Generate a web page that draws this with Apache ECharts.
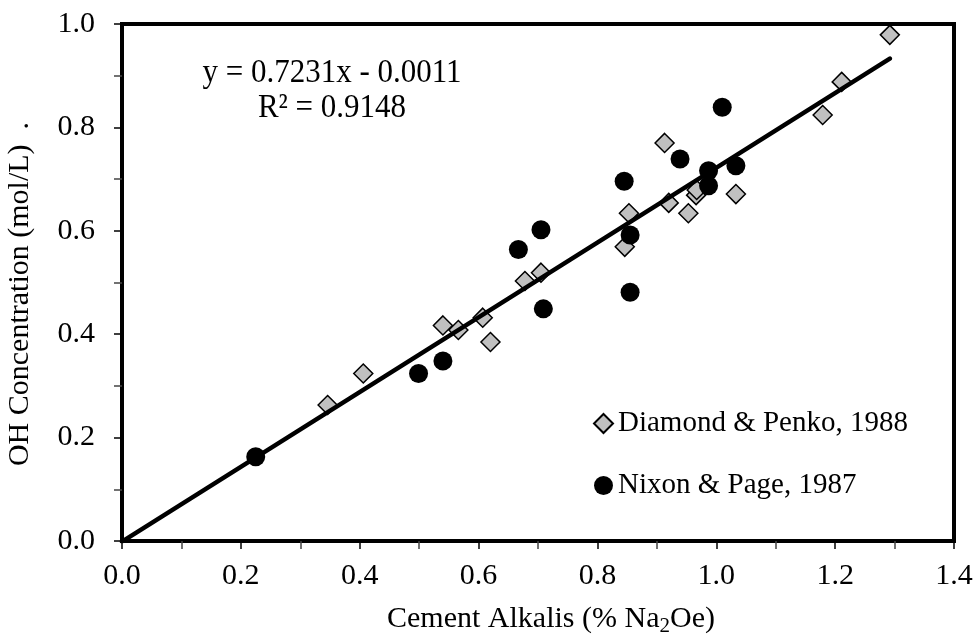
<!DOCTYPE html>
<html>
<head>
<meta charset="utf-8">
<script src="https://cdn.jsdelivr.net/npm/echarts@6/dist/echarts.min.js"></script>
<style>html,body{margin:0;padding:0;background:#fff}#c{width:976px;height:639px}</style>
</head>
<body>
<div id="c"></div>
<script>
var diamondX = [0.346, 0.406, 0.540, 0.566, 0.607, 0.620, 0.678, 0.705, 0.846, 0.853, 0.913, 0.920, 0.953, 0.966, 0.967, 1.033, 1.179, 1.211, 1.292];
var diamondY = [0.263, 0.324, 0.417, 0.408, 0.432, 0.385, 0.503, 0.519, 0.569, 0.634, 0.770, 0.654, 0.634, 0.669, 0.679, 0.671, 0.824, 0.888, 0.979];
var nixonX = [0.225, 0.499, 0.540, 0.667, 0.705, 0.709, 0.845, 0.855, 0.855, 0.939, 0.987, 0.987, 1.010, 1.033];
var nixonY = [0.163, 0.324, 0.348, 0.564, 0.602, 0.449, 0.696, 0.592, 0.481, 0.739, 0.716, 0.687, 0.839, 0.726];
var trendSlope = 0.7231, trendIntercept = -0.0011;
var trendX = [0, 1.292];
var seriesNames = ['Diamond & Penko, 1988', 'Nixon & Page, 1987'];
var eqText = ['y = 0.7231x - 0.0011', 'R² = 0.9148'];

function zip(xs, ys) { return xs.map(function (x, i) { return [x, ys[i]]; }); }
var trendData = trendX.map(function (x) { return [x, trendSlope * x + trendIntercept]; });

var FONT = 'Liberation Serif';
var chart = echarts.init(document.getElementById('c'));
var axisCommon = {
  min: 0, interval: 0.2,
  axisLine: { show: true, onZero: false, lineStyle: { color: '#000', width: 4 } },
  axisTick: { show: true, inside: false, length: 8, lineStyle: { color: '#000', width: 1.5 } },
  minorTick: { show: true, splitNumber: 2, length: 8, lineStyle: { color: '#444', width: 1.5 } },
  splitLine: { show: false },
  axisLabel: { color: '#000', fontFamily: FONT, fontSize: 30, formatter: function (v) { return v.toFixed(1); } }
};
chart.setOption({
  animation: false,
  grid: { left: 122, right: 22, top: 24, bottom: 98, show: true, borderColor: '#000', borderWidth: 4, containLabel: false },
  xAxis: Object.assign({}, axisCommon, { type: 'value', max: 1.4, axisLabel: Object.assign({}, axisCommon.axisLabel, { margin: 20 }) }),
  yAxis: Object.assign({}, axisCommon, { type: 'value', max: 1.0, axisLabel: Object.assign({}, axisCommon.axisLabel, { margin: 27 }) }),
  legend: {
    orient: 'vertical', left: 588, top: 404, itemWidth: 19, itemHeight: 19, itemGap: 33,
    data: seriesNames,
    textStyle: { color: '#000', fontFamily: FONT, fontSize: 29 }
  },
  graphic: [
    { type: 'text', x: 332, y: 73, scaleY: 1.08, style: { text: eqText[0], align: 'center', verticalAlign: 'middle', fill: '#000', font: '31px "Liberation Serif"' } },
    { type: 'text', x: 332, y: 108, scaleY: 1.08, style: { text: eqText[1], align: 'center', verticalAlign: 'middle', fill: '#000', font: '31px "Liberation Serif"' } },
    { type: 'text', x: 20, y: 294, rotation: Math.PI / 2, style: { text: 'OH Concentration (mol/L)  .', align: 'center', verticalAlign: 'middle', fill: '#000', font: '30px "Liberation Serif"' } },
    { type: 'text', x: 551, y: 622, style: {
        text: '{a|Cement Alkalis (% Na}{s|2}{a|Oe)}', align: 'center', verticalAlign: 'middle',
        rich: {
          a: { fontFamily: FONT, fontSize: 30, lineHeight: 30, padding: [0, 0, 5, 0], fill: '#000', color: '#000' },
          s: { fontFamily: FONT, fontSize: 21, lineHeight: 21, verticalAlign: 'bottom', fill: '#000', color: '#000' }
        }
      } }
  ],
  series: [
    { name: seriesNames[0], type: 'scatter', symbol: 'diamond', symbolSize: 19, data: zip(diamondX, diamondY),
      itemStyle: { color: '#c0c0c0', borderColor: '#000', borderWidth: 1.5, opacity: 1 }, z: 2 },
    { name: seriesNames[1], type: 'scatter', symbol: 'circle', symbolSize: 19, data: zip(nixonX, nixonY),
      itemStyle: { color: '#000', opacity: 1 }, z: 3 },
    { name: 'trend', type: 'line', data: trendData, symbol: 'none', clip: true,
      lineStyle: { color: '#000', width: 4.5, cap: 'round' }, z: 4, silent: true }
  ]
});
</script>
</body>
</html>
